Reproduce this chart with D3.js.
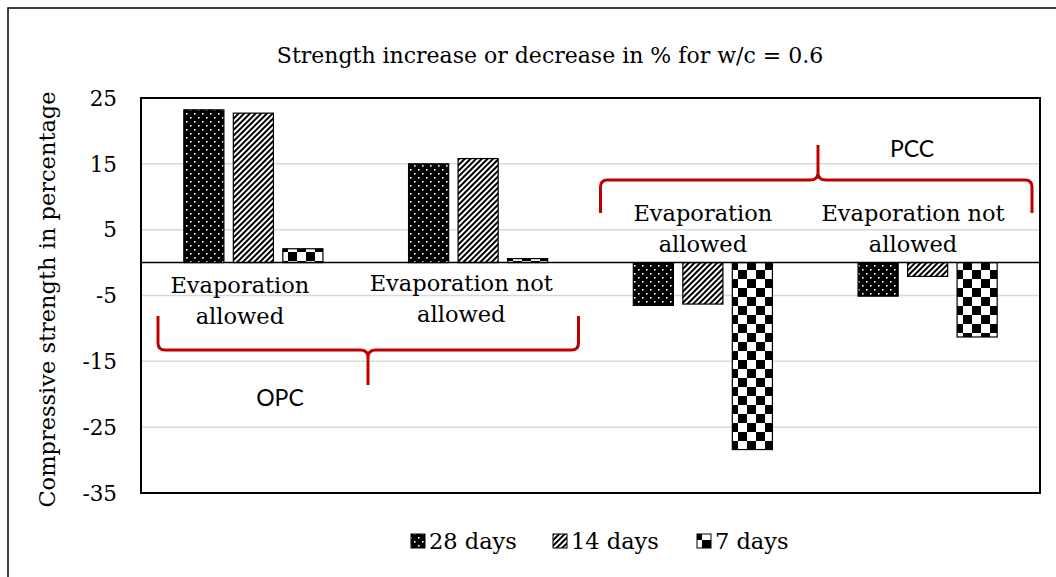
<!DOCTYPE html>
<html><head><meta charset="utf-8">
<script src="https://cdn.jsdelivr.net/npm/d3@7"></script>
<style>body{margin:0;background:#fff}svg{display:block}</style>
</head><body><div id="chart"></div>
<script>
const categories = ["OPC-EA", "OPC-ENA", "PCC-EA", "PCC-ENA"];
const seriesNames = ["28 days", "14 days", "7 days"];
const days28 = [23.2, 15.0, -6.5, -5.1];
const days14 = [22.7, 15.8, -6.3, -2.1];
const days7 = [2.1, 0.6, -28.4, -11.3];
const yTicks = [25, 15, 5, -5, -15, -25, -35];
const groupLabels = [["Evaporation", "allowed"], ["Evaporation not", "allowed"], ["Evaporation", "allowed"], ["Evaporation not", "allowed"]];
const title = "Strength increase or decrease in % for w/c = 0.6";
const yTitle = "Compressive strength in percentage";

const W = 1056, H = 577;
const serif = "'DejaVu Serif', serif";
const svg = d3.select("#chart").append("svg").attr("width", W).attr("height", H);
const defs = svg.append("defs");

// patterns
const pDots = defs.append("pattern").attr("id", "p28").attr("patternUnits", "userSpaceOnUse").attr("width", 8).attr("height", 8);
pDots.append("rect").attr("width", 8).attr("height", 8).attr("fill", "#000");
pDots.append("rect").attr("x", 2).attr("y", 1).attr("width", 1.6).attr("height", 1.6).attr("fill", "#fff");
pDots.append("rect").attr("x", 6).attr("y", 5).attr("width", 1.6).attr("height", 1.6).attr("fill", "#fff");

const pDiag = defs.append("pattern").attr("id", "p14").attr("patternUnits", "userSpaceOnUse").attr("width", 4).attr("height", 4).attr("patternTransform", "rotate(45)");
pDiag.append("rect").attr("width", 4).attr("height", 4).attr("fill", "#fff");
pDiag.append("rect").attr("width", 2).attr("height", 4).attr("fill", "#000");

const pCheck = defs.append("pattern").attr("id", "p7").attr("patternUnits", "userSpaceOnUse").attr("width", 18).attr("height", 18);
pCheck.append("rect").attr("width", 18).attr("height", 18).attr("fill", "#fff");
pCheck.append("rect").attr("width", 9).attr("height", 9).attr("fill", "#000");
pCheck.append("rect").attr("x", 9).attr("y", 9).attr("width", 9).attr("height", 9).attr("fill", "#000");

const fills = ["url(#p28)", "url(#p14)", "url(#p7)"];
const series = [days28, days14, days7];

// outer frame
svg.append("rect").attr("x", 8).attr("y", 8).attr("width", W + 10).attr("height", H + 10)
  .attr("fill", "none").attr("stroke", "#000").attr("stroke-width", 1.5);

const plot = {l: 141, r: 1040, t: 98, b: 493};
const y = d3.scaleLinear().domain([-35, 25]).range([plot.b, plot.t]);
const x0 = d3.scaleBand().domain(categories).range([plot.l, plot.r]);
const x1 = d3.scaleBand().domain(seriesNames).range([0, x0.bandwidth()]).paddingInner(0.19).paddingOuter(0.865);

// gridlines
svg.append("g").selectAll("line").data(yTicks).join("line")
  .attr("x1", plot.l).attr("x2", plot.r).attr("y1", d => y(d)).attr("y2", d => y(d))
  .attr("stroke", "#d9d9d9").attr("stroke-width", 1.5);

// y tick labels
svg.append("g").selectAll("text").data(yTicks).join("text")
  .attr("x", 117).attr("y", d => y(d)).attr("dy", "0.36em").attr("text-anchor", "end")
  .attr("font-family", serif).attr("font-size", 21.5).attr("fill", "#000").text(d => d);

// bars
categories.forEach((c, ci) => {
  seriesNames.forEach((s, si) => {
    const v = series[si][ci];
    svg.append("rect")
      .attr("x", x0(c) + x1(s)).attr("width", x1.bandwidth())
      .attr("y", y(Math.max(0, v))).attr("height", Math.abs(y(v) - y(0)))
      .attr("fill", fills[si]).attr("stroke", "#000").attr("stroke-width", 1.2);
  });
});

// zero line
svg.append("line").attr("x1", plot.l).attr("x2", plot.r).attr("y1", y(0)).attr("y2", y(0))
  .attr("stroke", "#000").attr("stroke-width", 1.5);

// plot frame
svg.append("rect").attr("x", plot.l).attr("y", plot.t).attr("width", plot.r - plot.l).attr("height", plot.b - plot.t)
  .attr("fill", "none").attr("stroke", "#000").attr("stroke-width", 2);

// title
svg.append("text").attr("x", 550).attr("y", 63).attr("text-anchor", "middle")
  .attr("font-family", serif).attr("font-size", 22).text(title);

// y title
svg.append("text").attr("transform", `translate(55,${(plot.t + plot.b) / 2 + 4}) rotate(-90)`)
  .attr("text-anchor", "middle").attr("font-family", serif).attr("font-size", 22.5).text(yTitle);

// group labels
const labelPos = [
  {dx: 0.44, y: 293}, {dx: 0.425, y: 291}, {dx: 0.50, y: 221}, {dx: 0.435, y: 221}
];
categories.forEach((c, i) => {
  const cx = x0(c) + x0.bandwidth() * labelPos[i].dx;
  groupLabels[i].forEach((t, li) => {
    svg.append("text").attr("x", cx).attr("y", labelPos[i].y + li * 31).attr("text-anchor", "middle")
      .attr("font-family", serif).attr("font-size", 22.5).text(t);
  });
});

// braces
const red = "#c00000";
function brace(xl, xr, yEnd, yBar, yTip, xTip) {
  const r = 7 * Math.sign(yBar - yEnd);
  const r2 = 7 * Math.sign(yTip - yBar);
  const p = d3.path();
  p.moveTo(xl, yEnd);
  p.lineTo(xl, yBar - r);
  p.quadraticCurveTo(xl, yBar, xl + 7, yBar);
  p.lineTo(xTip - 8, yBar);
  p.quadraticCurveTo(xTip, yBar, xTip, yBar + r2);
  p.lineTo(xTip, yTip);
  p.moveTo(xTip, yBar + r2);
  p.quadraticCurveTo(xTip, yBar, xTip + 8, yBar);
  p.lineTo(xr - 7, yBar);
  p.quadraticCurveTo(xr, yBar, xr, yBar - r);
  p.lineTo(xr, yEnd);
  svg.append("path").attr("d", p.toString()).attr("fill", "none").attr("stroke", red)
    .attr("stroke-width", 3).attr("stroke-linejoin", "round");
}
const bw = x0.bandwidth();
brace(x0(categories[0]) + 17, x0(categories[1]) + bw - 12, 316, 350, 385, 368);
brace(x0(categories[2]) + 10, x0(categories[3]) + bw - 8, 213, 180, 145, 818);

const sans = "Lato, 'Open Sans', sans-serif";
svg.append("text").attr("x", 280).attr("y", 406).attr("text-anchor", "middle")
  .attr("font-family", sans).attr("font-size", 23).text("OPC");
svg.append("text").attr("x", 912).attr("y", 157).attr("text-anchor", "middle")
  .attr("font-family", sans).attr("font-size", 23).text("PCC");

// legend
const legendX = [411, 553, 697];
const lg = svg.append("g");
seriesNames.forEach((s, i) => {
  lg.append("rect").attr("x", legendX[i]).attr("y", 534).attr("width", 14).attr("height", 14)
    .attr("fill", fills[i]).attr("stroke", "#000").attr("stroke-width", 1);
  lg.append("text").attr("x", legendX[i] + 18).attr("y", 549)
    .attr("font-family", serif).attr("font-size", 22.5).text(s);
});
</script></body></html>
